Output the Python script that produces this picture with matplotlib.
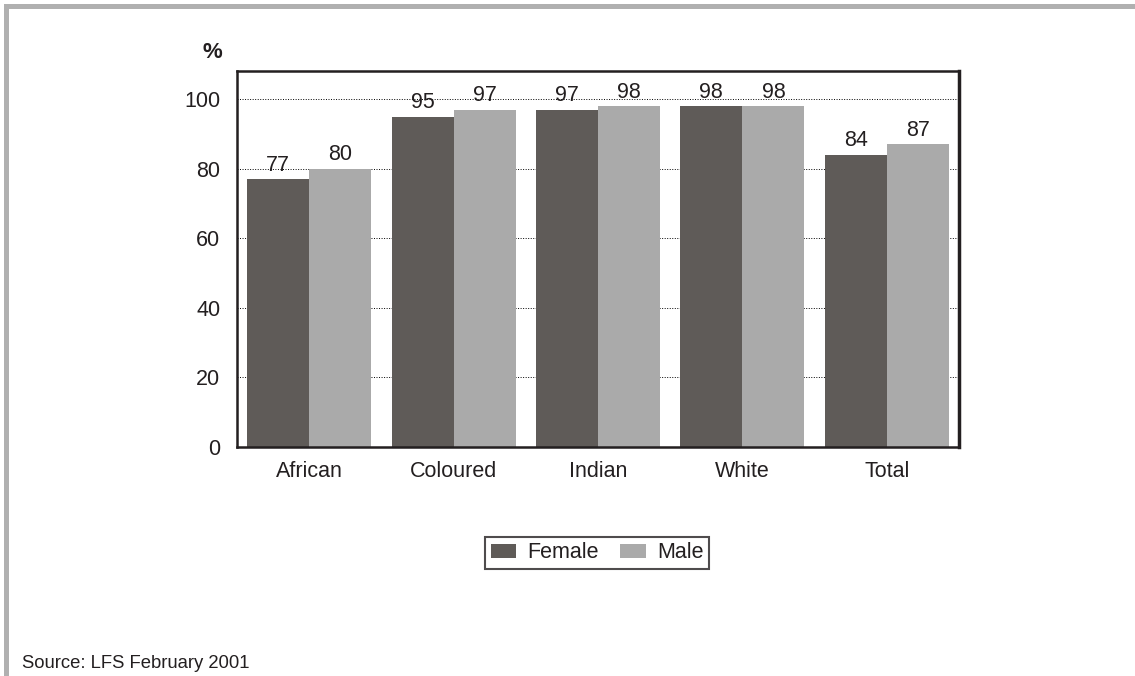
import matplotlib.pyplot as plt
import numpy as np
from matplotlib.patches import Rectangle

plt.rcParams['font.family'] = ['Liberation Sans', 'DejaVu Sans']

# Share of population by group and sex (%)
groups = ['African', 'Coloured', 'Indian', 'White', 'Total']
female = [77, 95, 97, 98, 84]
male = [80, 97, 98, 98, 87]

female_color = '#5f5b58'
male_color = '#aaaaaa'
ink = '#231f20'

fig = plt.figure(figsize=(11.35, 6.76), dpi=100)

# grey frame along the top and left edge
fig.patches.append(Rectangle((4 / 1135, 0), 5 / 1135, 1 - 4 / 676,
                             transform=fig.transFigure, color='#b0b0b0', lw=0))
fig.patches.append(Rectangle((4 / 1135, 1 - 9 / 676), 1 - 4 / 1135, 5 / 676,
                             transform=fig.transFigure, color='#b0b0b0', lw=0))

ax = fig.add_axes([237 / 1135, 1 - 447 / 676, 722 / 1135, 376.3 / 676])

x = np.arange(len(groups))
w = 0.43
b1 = ax.bar(x - w / 2, female, w, color=female_color, label='Female', zorder=2)
b2 = ax.bar(x + w / 2, male, w, color=male_color, label='Male', zorder=2)

for bars, vals in ((b1, female), (b2, male)):
    for rect, v in zip(bars, vals):
        ax.annotate(str(v), (rect.get_x() + rect.get_width() / 2, v),
                    xytext=(0, 2.5), textcoords='offset points',
                    ha='center', va='bottom', fontsize=15.5, color=ink)

ax.set_xlim(-0.5, len(groups) - 0.5)
ax.set_ylim(0, 108.2)
ax.set_yticks([0, 20, 40, 60, 80, 100])
ax.set_xticks(x)
ax.set_xticklabels(groups)
ax.tick_params(axis='both', length=0, labelsize=15.5, colors=ink)
ax.tick_params(axis='y', pad=12)
ax.tick_params(axis='x', pad=10)

for y in [20, 40, 60, 80, 100]:
    ax.axhline(y, color='black', lw=0.7, ls=(0, (1, 1.6)), zorder=1)

for side in ['left', 'bottom', 'top', 'right']:
    ax.spines[side].set_color(ink)
    ax.spines[side].set_linewidth(1.8)
ax.spines['right'].set_linewidth(2.5)

fig.text(212 / 1135, 1 - 52 / 676, '%', ha='center', va='center',
         fontsize=16, fontweight='bold', color=ink)

leg = fig.legend(handles=[b1, b2], loc='center', ncol=2,
                 bbox_to_anchor=(597 / 1135, 1 - 553 / 676),
                 fontsize=15.5, frameon=True, fancybox=False,
                 handlelength=1.2, handleheight=0.65, handletextpad=0.5,
                 columnspacing=1.0, borderpad=0.25, borderaxespad=0)
leg.get_frame().set_edgecolor(ink)
leg.get_frame().set_linewidth(1.5)
for t in leg.get_texts():
    t.set_color(ink)

fig.text(22 / 1135, 1 - 663 / 676, 'Source: LFS February 2001',
         ha='left', va='center', fontsize=13.3, color=ink)

fig.savefig('out.png', dpi=100)
